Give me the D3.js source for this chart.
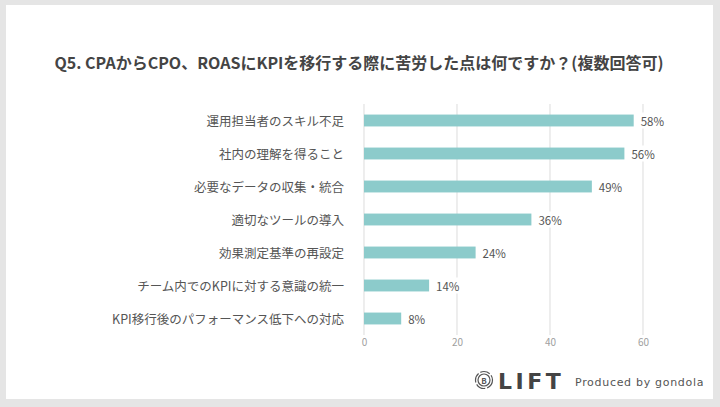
<!DOCTYPE html>
<html>
<head>
<meta charset="utf-8">
<script src="https://cdn.jsdelivr.net/npm/d3@7"></script>
<style>
  html, body { margin: 0; padding: 0; background: #e5e5e5; }
  svg { display: block; }
</style>
</head>
<body>
<svg id="chart" width="720" height="407"></svg>
<script>
const titleText = "Q5. CPAからCPO、ROASにKPIを移行する際に苦労した点は何ですか？(複数回答可)";
const categories = [
  "運用担当者のスキル不足",
  "社内の理解を得ること",
  "必要なデータの収集・統合",
  "適切なツールの導入",
  "効果測定基準の再設定",
  "チーム内でのKPIに対する意識の統一",
  "KPI移行後のパフォーマンス低下への対応"
];
const values = [58, 56, 49, 36, 24, 14, 8];
const tickValues = [0, 20, 40, 60];

const font = "'Noto Sans CJK JP', 'Noto Sans', sans-serif";
const svg = d3.select("#chart");

// card
svg.append("rect").attr("x", 0).attr("y", 0).attr("width", 720).attr("height", 407).attr("fill", "#e5e5e5");
svg.append("rect").attr("x", 6).attr("y", 5).attr("width", 707).attr("height", 394).attr("fill", "#ffffff");

// title
svg.append("text")
  .attr("x", 359).attr("y", 62)
  .attr("text-anchor", "middle").attr("dominant-baseline", "central")
  .attr("font-family", font).attr("font-weight", 700).attr("font-size", 16)
  .attr("fill", "#444").text(titleText);

const x = d3.scaleLinear().domain([0, 60]).range([364, 643]);
const y = d3.scaleBand().domain(categories).range([104, 335]).paddingInner(0.64).paddingOuter(0.32);

// grid
const g = svg.append("g");
g.selectAll("line.grid").data(tickValues).join("line")
  .attr("class", "grid")
  .attr("x1", d => x(d)).attr("x2", d => x(d))
  .attr("y1", 104).attr("y2", 335)
  .attr("stroke", "#e2e2e2").attr("stroke-width", 1.2);

// axis tick labels
const axis = d3.axisBottom(x).tickValues(tickValues).tickSize(0).tickPadding(0);
const ax = svg.append("g").attr("transform", "translate(0,340)").call(axis);
ax.select(".domain").remove();
ax.selectAll("text")
  .attr("font-family", font).attr("font-size", 10).attr("fill", "#a0a0a0")
  .attr("dy", "0.55em");

// bars
g.selectAll("rect.bar").data(values).join("rect")
  .attr("class", "bar")
  .attr("x", x(0))
  .attr("y", (d, i) => y(categories[i]))
  .attr("width", d => x(d) - x(0))
  .attr("height", y.bandwidth())
  .attr("fill", "#8ccbcb");

// category labels
svg.append("g").selectAll("text").data(categories).join("text")
  .attr("x", 344)
  .attr("y", d => y(d) + y.bandwidth() / 2)
  .attr("text-anchor", "end").attr("dominant-baseline", "central")
  .attr("font-family", font).attr("font-size", 12.5).attr("fill", "#555")
  .text(d => d);

// value labels with white background
const vl = svg.append("g").selectAll("g").data(values).join("g")
  .attr("transform", (d, i) => `translate(${x(d) + 7},${y(categories[i]) + y.bandwidth() / 2})`);
vl.append("rect").attr("x", -1).attr("y", -8).attr("width", 26).attr("height", 16).attr("fill", "#fff");
vl.append("text")
  .attr("dominant-baseline", "central")
  .attr("font-family", font).attr("font-size", 11.5).attr("fill", "#555")
  .text(d => d + "%");

// footer logo
const logo = svg.append("g").attr("transform", "translate(484,380)");
logo.append("circle").attr("r", 8.5).attr("fill", "none").attr("stroke", "#555").attr("stroke-width", 1.2).attr("stroke-dasharray", "10 2");
logo.append("circle").attr("r", 6).attr("fill", "none").attr("stroke", "#555").attr("stroke-width", 1.2);
logo.append("text").attr("text-anchor", "middle").attr("dominant-baseline", "central")
  .attr("font-family", font).attr("font-weight", 700).attr("font-size", 8).attr("fill", "#555").text("B");

svg.append("text")
  .attr("x", 498).attr("y", 381)
  .attr("dominant-baseline", "central")
  .attr("font-family", "'DejaVu Sans', sans-serif").attr("font-weight", 700).attr("font-size", 22)
  .attr("letter-spacing", 3.5).attr("fill", "#444").text("LIFT");

svg.append("text")
  .attr("x", 575).attr("y", 382)
  .attr("dominant-baseline", "central")
  .attr("font-family", "'DejaVu Sans', sans-serif").attr("font-size", 11)
  .attr("letter-spacing", 0.7).attr("fill", "#555").text("Produced by gondola");
</script>
</body>
</html>
